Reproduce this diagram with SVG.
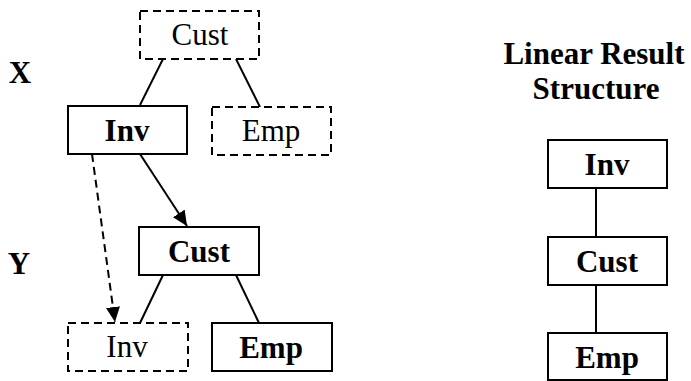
<svg xmlns="http://www.w3.org/2000/svg" width="691" height="381" viewBox="0 0 691 381">
<defs>
<style>
.box{fill:#fff;stroke:#000;stroke-width:2}
.dbox{fill:#fff;stroke:#000;stroke-width:2;stroke-dasharray:8,5}
.t{font-family:"Liberation Serif",serif;font-size:31px;text-anchor:middle;fill:#000}
.b{font-weight:bold}
.ln{stroke:#000;stroke-width:2;fill:none}
.dl{stroke:#000;stroke-width:2;fill:none;stroke-dasharray:8,5}
</style>
<marker id="arr" viewBox="0 0 15 14" refX="15" refY="7" markerWidth="15" markerHeight="14" orient="auto" markerUnits="userSpaceOnUse">
<path d="M0,0 L15,7 L0,14 z" fill="#000"/>
</marker>
</defs>
<text class="t b" x="20" y="83">X</text>
<text class="t b" x="19" y="274">Y</text>
<text class="t b" x="594" y="64">Linear Result</text>
<text class="t b" x="596" y="99">Structure</text>
<g id="connectors">
<line class="ln" x1="163" y1="59" x2="140" y2="105"/>
<line class="ln" x1="236" y1="59" x2="260" y2="107"/>
<line class="ln" x1="140" y1="154" x2="187" y2="226" marker-end="url(#arr)"/>
<line class="dl" x1="92" y1="154" x2="115" y2="322" marker-end="url(#arr)"/>
<line class="ln" x1="163" y1="275" x2="140" y2="323"/>
<line class="ln" x1="236" y1="275" x2="259" y2="323"/>
<line class="ln" x1="596" y1="188" x2="596" y2="237"/>
<line class="ln" x1="596" y1="285" x2="596" y2="333"/>
</g>
<g id="cust-x"><rect class="dbox" x="140" y="11" width="119" height="48"/><text class="t" x="200" y="45">Cust</text></g>
<g id="inv-x"><rect class="box" x="68" y="106" width="119" height="48"/><text class="t b" x="127" y="141">Inv</text></g>
<g id="emp-x"><rect class="dbox" x="212" y="107" width="119" height="48"/><text class="t" x="271" y="141">Emp</text></g>
<g id="cust-y"><rect class="box" x="139" y="227" width="120" height="48"/><text class="t b" x="199" y="262">Cust</text></g>
<g id="inv-y"><rect class="dbox" x="68" y="323" width="120" height="48"/><text class="t" x="127" y="357">Inv</text></g>
<g id="emp-y"><rect class="box" x="212" y="323" width="120" height="48"/><text class="t b" x="271" y="358">Emp</text></g>
<g id="inv-r"><rect class="box" x="548" y="140" width="119" height="48"/><text class="t b" x="607" y="175">Inv</text></g>
<g id="cust-r"><rect class="box" x="548" y="237" width="119" height="48"/><text class="t b" x="607" y="272">Cust</text></g>
<g id="emp-r"><rect class="box" x="548" y="333" width="119" height="47"/><text class="t b" x="607" y="368">Emp</text></g>
</svg>
